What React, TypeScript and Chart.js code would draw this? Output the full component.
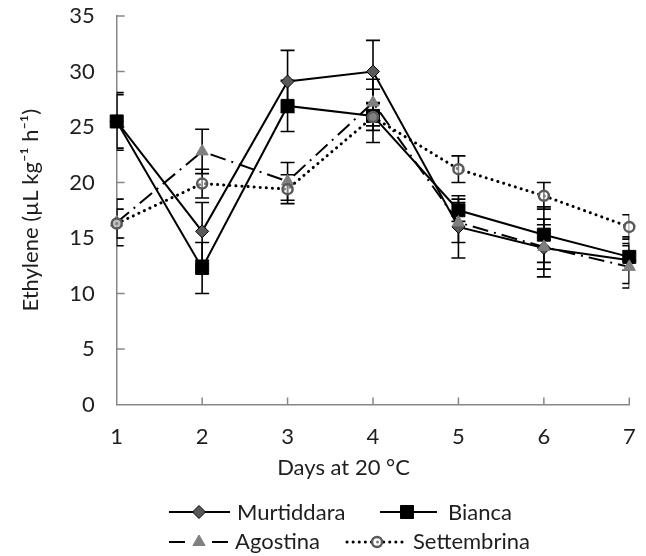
import React, { useEffect, useRef } from 'react';
import { Chart, registerables } from 'chart.js';

Chart.register(...registerables);

// ---- data ----
const days = [1, 2, 3, 4, 5, 6, 7];
const seriesNames = ['Murtiddara', 'Bianca', 'Agostina', 'Settembrina'];
const murtiddara = [25.5, 15.6, 29.1, 30.0, 16.0, 14.1, 13.0];
const murtiddaraErr = [2.6, 2.6, 2.8, 2.8, 2.8, 2.6, 2.1];
const bianca = [25.5, 12.3, 26.9, 26.0, 17.5, 15.3, 13.3];
const biancaErr = [2.4, 2.3, 2.3, 2.4, 1.0, 2.5, 1.2];
const agostina = [16.4, 22.8, 20.1, 27.2, 16.4, 14.2, 12.4];
const agostinaErr = [2.1, 2.0, 1.7, 2.1, 1.8, 2.0, 1.9];
const settembrina = [16.3, 19.9, 19.4, 25.9, 21.2, 18.8, 16.0];
const settembrinaErr = [1.3, 1.3, 1.3, 1.2, 1.2, 1.2, 1.1];
const yMin = 0;
const yMax = 35;
const yStep = 5;
const xTitle = 'Days at 20 °C';
const yTitle = 'Ethylene (µL kg⁻¹ h⁻¹)';

const values = [murtiddara, bianca, agostina, settembrina];
const errors = [murtiddaraErr, biancaErr, agostinaErr, settembrinaErr];

// ---- styles ----
const FONT = 'Lato, "Open Sans", sans-serif';
const FS = 22;
const TEXT = '#1e1e1e';
const AXIS = '#878787';
const styles = [
  { pointStyle: 'rectRot', radius: 6.5, fill: '#595959', stroke: '#000', bw: 1, dash: [] as number[], lw: 2, cap: 'butt' },
  { pointStyle: 'rect', radius: 9.2, fill: '#000', stroke: '#000', bw: 1, dash: [] as number[], lw: 2, cap: 'butt' },
  { pointStyle: 'triangle', radius: 7, fill: '#7f7f7f', stroke: '#7f7f7f', bw: 1, dash: [16, 6, 2, 6], lw: 2, cap: 'butt' },
  { pointStyle: 'circle', radius: 5, fill: 'rgba(255,255,255,0.5)', stroke: '#595959', bw: 2.5, dash: [0.1, 6], lw: 3, cap: 'round' },
];

const legendLayout = [
  { x0: 169, x1: 230, mx: 199, tx: 237, y: 512, base: 519.5, split: false },
  { x0: 380, x1: 437, mx: 407, tx: 448, y: 512, base: 519.5, split: false },
  { x0: 169, x1: 228, mx: 199, tx: 235, y: 542, base: 549, split: true },
  { x0: 347, x1: 405, mx: 377, tx: 413, y: 542, base: 549, split: false },
];

function drawMarker(ctx: CanvasRenderingContext2D, i: number, x: number, y: number) {
  const s = styles[i];
  const r = s.radius;
  ctx.save();
  ctx.setLineDash([]);
  ctx.fillStyle = s.fill;
  ctx.strokeStyle = s.stroke;
  ctx.lineWidth = s.bw;
  ctx.beginPath();
  if (s.pointStyle === 'rectRot') {
    ctx.moveTo(x, y - r);
    ctx.lineTo(x + r, y);
    ctx.lineTo(x, y + r);
    ctx.lineTo(x - r, y);
    ctx.closePath();
  } else if (s.pointStyle === 'rect') {
    const h = Math.SQRT1_2 * r;
    ctx.rect(x - h, y - h, 2 * h, 2 * h);
  } else if (s.pointStyle === 'triangle') {
    ctx.moveTo(x, y - r);
    ctx.lineTo(x + r * Math.sin((2 * Math.PI) / 3), y - r * Math.cos((2 * Math.PI) / 3));
    ctx.lineTo(x - r * Math.sin((2 * Math.PI) / 3), y - r * Math.cos((2 * Math.PI) / 3));
    ctx.closePath();
  } else {
    ctx.arc(x, y, r, 0, Math.PI * 2);
    ctx.closePath();
  }
  ctx.fill();
  if (s.bw > 0) ctx.stroke();
  ctx.restore();
}

const decor = {
  id: 'decor',
  beforeDatasetsDraw(chart: any) {
    const { ctx, chartArea: ca, scales } = chart;
    const xs = scales.x;
    const ys = scales.y;
    ctx.save();
    ctx.strokeStyle = AXIS;
    ctx.lineWidth = 1.5;
    ys.ticks.forEach((t: any) => {
      if (t.value === yMin) return;
      const py = ys.getPixelForValue(t.value);
      ctx.beginPath();
      ctx.moveTo(ca.left, py);
      ctx.lineTo(ca.left + 8, py);
      ctx.stroke();
    });
    xs.ticks.forEach((t: any) => {
      if (t.value === days[0]) return;
      const px = xs.getPixelForValue(t.value);
      ctx.beginPath();
      ctx.moveTo(px, ca.bottom);
      ctx.lineTo(px, ca.bottom - 7);
      ctx.stroke();
    });
    // error bars
    ctx.beginPath();
    ctx.rect(ca.left, 0, ca.right - ca.left, chart.height);
    ctx.clip();
    ctx.strokeStyle = '#000';
    ctx.lineWidth = 1.6;
    for (let i = 0; i < values.length; i++) {
      for (let j = 0; j < days.length; j++) {
        const px = xs.getPixelForValue(days[j]);
        const top = ys.getPixelForValue(values[i][j] + errors[i][j]);
        const bot = ys.getPixelForValue(values[i][j] - errors[i][j]);
        ctx.beginPath();
        ctx.moveTo(px, top);
        ctx.lineTo(px, bot);
        ctx.moveTo(px - 7, top);
        ctx.lineTo(px + 7, top);
        ctx.moveTo(px - 7, bot);
        ctx.lineTo(px + 7, bot);
        ctx.stroke();
      }
    }
    ctx.restore();
  },
  afterDraw(chart: any) {
    const { ctx } = chart;
    ctx.save();
    ctx.fillStyle = TEXT;
    ctx.font = `${FS}px ${FONT}`;
    ctx.textAlign = 'center';
    ctx.textBaseline = 'alphabetic';
    ctx.fillText(xTitle, 343.5, 474.5);
    // legend
    ctx.textAlign = 'left';
    legendLayout.forEach((L, i) => {
      const s = styles[i];
      ctx.save();
      ctx.strokeStyle = '#000';
      ctx.lineWidth = s.lw;
      ctx.lineCap = s.cap as CanvasLineCap;
      if (L.split) {
        ctx.beginPath();
        ctx.moveTo(L.x0, L.y);
        ctx.lineTo(L.x0 + 16, L.y);
        ctx.moveTo(L.x1 - 16, L.y);
        ctx.lineTo(L.x1, L.y);
        ctx.stroke();
      } else {
        ctx.setLineDash(s.dash);
        ctx.beginPath();
        ctx.moveTo(L.x0, L.y);
        ctx.lineTo(L.x1, L.y);
        ctx.stroke();
      }
      ctx.restore();
      drawMarker(ctx, i, L.mx, L.y);
      ctx.fillStyle = TEXT;
      ctx.fillText(seriesNames[i], L.tx, L.base);
    });
    ctx.restore();
  },
};

export default function App() {
  const ref = useRef<HTMLCanvasElement>(null);
  useEffect(() => {
    if (!ref.current) return;
    const datasets = seriesNames.map((name, i) => {
      const s = styles[i];
      return {
        label: name,
        data: days.map((d, j) => ({ x: d, y: values[i][j] })),
        borderColor: '#000',
        borderWidth: s.lw,
        borderDash: s.dash,
        borderCapStyle: s.cap,
        tension: 0,
        fill: false,
        pointStyle: s.pointStyle,
        pointRadius: s.radius,
        pointHoverRadius: s.radius,
        pointBackgroundColor: s.fill,
        pointBorderColor: s.stroke,
        pointBorderWidth: s.bw,
        clip: false,
        order: values.length - 1 - i,
      };
    });
    const chart = new Chart(ref.current, {
      type: 'line',
      data: { datasets } as any,
      plugins: [decor],
      options: {
        responsive: false,
        animation: false,
        events: [],
        layout: { padding: { left: 0, right: 16.7, top: 16, bottom: 71.5 } },
        plugins: { legend: { display: false }, tooltip: { enabled: false } },
        scales: {
          x: {
            type: 'linear',
            min: days[0],
            max: days[days.length - 1],
            ticks: { stepSize: 1, color: TEXT, font: { family: FONT, size: FS }, padding: 19, maxRotation: 0 },
            grid: { display: false, drawTicks: false },
            border: { display: true, color: AXIS, width: 1.5 },
            afterFit: (s: any) => { s.height = 80; s.paddingLeft = 0; s.paddingRight = 0; },
          },
          y: {
            min: yMin,
            max: yMax,
            ticks: { stepSize: yStep, color: TEXT, font: { family: FONT, size: FS }, padding: 22 },
            grid: { display: false, drawTicks: false },
            border: { display: true, color: AXIS, width: 1.5 },
            title: { display: true, text: yTitle, color: TEXT, font: { family: FONT, size: FS }, padding: { top: 18, bottom: 0 } },
            afterFit: (s: any) => { s.width = 116.7; s.paddingTop = 0; s.paddingBottom = 0; },
          },
        },
      } as any,
    });
    return () => chart.destroy();
  }, []);
  return (
    <div style={{ position: 'absolute', left: 0, top: 0, width: 646, height: 556, background: '#fff' }}>
      <canvas ref={ref} width={646} height={556} style={{ display: 'block' }} />
    </div>
  );
}
